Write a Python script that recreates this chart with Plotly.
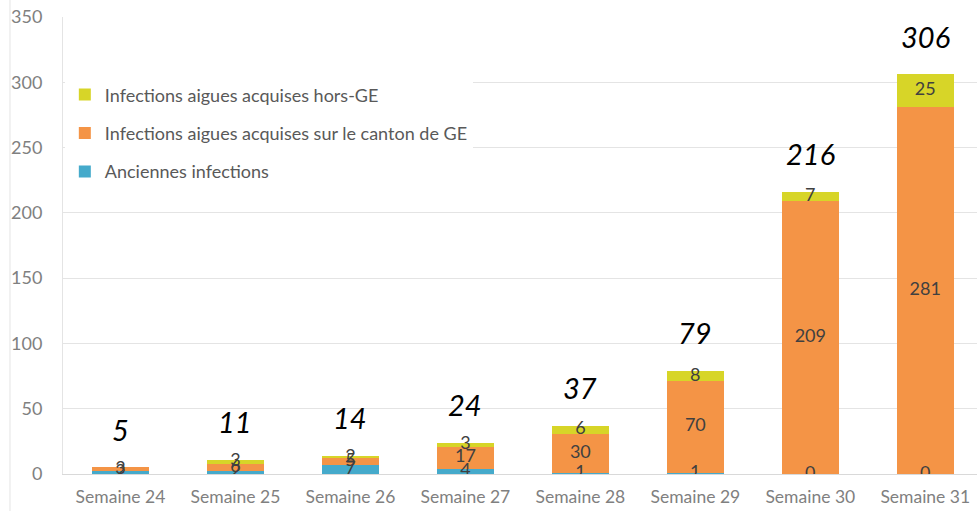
import plotly.graph_objects as go

# %% data
weeks = ["Semaine 24", "Semaine 25", "Semaine 26", "Semaine 27",
         "Semaine 28", "Semaine 29", "Semaine 30", "Semaine 31"]
anciennes = [2, 2, 7, 4, 1, 1, 0, 0]
canton_ge = [3, 6, 5, 17, 30, 70, 209, 281]
hors_ge = [0, 3, 2, 3, 6, 8, 7, 25]
totals = [5, 11, 14, 24, 37, 79, 216, 306]

# %% style
FONT = "Lato, Open Sans, sans-serif"
GREY = "#808080"
TEAL = "#45aacb"
ORANGE = "#f49446"
YELLOW = "#d7d528"

fig = go.Figure()

series = [
    ("Anciennes infections", anciennes, TEAL, 3),
    ("Infections aigues acquises sur le canton de GE", canton_ge, ORANGE, 2),
    ("Infections aigues acquises hors-GE", hors_ge, YELLOW, 1),
]

base = [0] * len(weeks)
for name, vals, col, rank in series:
    fig.add_trace(go.Bar(
        x=weeks, y=vals, name=name, marker=dict(color=col, line_width=0),
        legendgroup=name, legendrank=rank, hoverinfo="y+name"
    ))
    # labels in the middle of each segment
    xs, ys, ts = [], [], []
    for j, v in enumerate(vals):
        if v == 0 and name.endswith("hors-GE"):
            continue
        xs.append(weeks[j])
        ys.append(base[j] + v / 2)
        ts.append(str(v))
    base = [b + v for b, v in zip(base, vals)]
    fig.add_trace(go.Scatter(
        x=xs, y=ys, text=ts, mode="text", showlegend=False, hoverinfo="skip",
        textfont=dict(family=FONT, size=18, color="#404040")
    ))

for w, t in zip(weeks, totals):
    fig.add_annotation(
        x=w, y=t, text=f"<i>{t}</i>", showarrow=False, yshift=38,
        font=dict(family=FONT, size=29, color="black")
    )

fig.update_layout(
    barmode="stack",
    bargap=0.5,
    width=977, height=511,
    margin=dict(l=63, r=0, t=17, b=37),
    plot_bgcolor="white",
    paper_bgcolor="white",
    font=dict(family=FONT, size=17, color=GREY),
    legend=dict(
        x=0.002, y=0.87, xanchor="left", yanchor="top",
        traceorder="grouped", tracegroupgap=12,
        bgcolor="white", font=dict(size=18, color="#595959"),
        itemwidth=30
    ),
    xaxis=dict(
        range=[-0.5, 7.45], showgrid=False, showline=True,
        linecolor="#d9d9d9", linewidth=1, ticks="",
        ticklabelstandoff=7, tickfont=dict(size=17.5, color=GREY)
    ),
    yaxis=dict(
        range=[0, 350], dtick=50,
        showgrid=True, gridcolor="#e4e4e4",
        gridwidth=1, zeroline=False, showline=True, linecolor="#e4e4e4",
        ticklabelstandoff=16, tickfont=dict(size=18, color=GREY)
    ),
)

# outer chart border on the left like the original
fig.add_shape(type="line", xref="paper", yref="paper",
              x0=-0.058, x1=-0.058, y0=-0.1, y1=1.05,
              line=dict(color="#e4e4e4", width=1))

# drop the default page margin so the figure fills the window exactly
fig.write_html("out.html", config={"displayModeBar": False},
               post_script="document.body.style.margin = '0';")
